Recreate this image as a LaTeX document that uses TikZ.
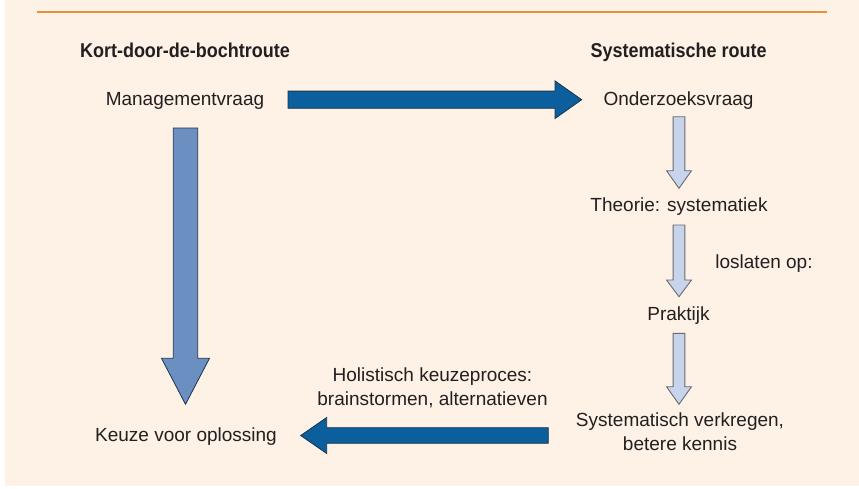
\documentclass[tikz,border=0pt]{standalone}
\usepackage{fontspec}
\setmainfont{Liberation Sans}
\newfontfamily\headfont{Liberation Sans}[FakeStretch=0.9]
\usetikzlibrary{calc}

\definecolor{paper}{HTML}{FEF1E5}
\definecolor{rulecol}{HTML}{E3913A}
\definecolor{ink}{HTML}{231F20}
\definecolor{deepblue}{HTML}{0A5F9C}
\definecolor{deepedge}{HTML}{1B3550}
\definecolor{midblue}{HTML}{6B8FC1}
\definecolor{paleblue}{HTML}{C7D4EC}
\definecolor{paleedge}{HTML}{6A6A6E}

% block arrow: #1 style, #2 tail, #3 tip, #4 shaft half width, #5 head half width, #6 head length
\newcommand\blockarrow[6]{%
  \coordinate (ba-base) at ($(#3)!#6!(#2)$);
  \draw[#1] ($(#2)!#4!90:(#3)$) -- ($(ba-base)!#4!-90:(#2)$)
    -- ($(ba-base)!#5!-90:(#2)$) -- (#3)
    -- ($(ba-base)!#5!90:(#2)$) -- ($(ba-base)!#4!90:(#2)$)
    -- ($(#2)!#4!-90:(#3)$) -- cycle;
}

\tikzset{
  txt/.style={inner sep=0pt, text=ink, font=\fontsize{19}{23.3}\selectfont},
  head/.style={inner sep=0pt, text=ink, font=\fontsize{20}{24}\headfont\bfseries},
  darrow/.style={fill=deepblue, draw=deepedge, line width=0.8pt, line join=miter},
  marrow/.style={fill=midblue, draw=deepedge, line width=0.8pt, line join=miter},
  parrow/.style={fill=paleblue, draw=paleedge, line width=0.9pt, line join=miter},
}

\begin{document}
\begin{tikzpicture}[x=1pt,y=-1pt]
  % page and panel
  \fill[white] (0,0) rectangle (859,488);
  \fill[paper] (5,0) rectangle (859,486);
  \draw[rulecol, line width=2.2pt] (37,12) -- (827,12);

  % column headings
  \node[head, anchor=base] (kort) at (185,57) {Kort-door-de-bochtroute};
  \node[head, anchor=base] (sys) at (678.7,57) {Systematische route};

  % texts
  \node[txt, anchor=base] (mv) at (185,105) {Managementvraag};
  \node[txt, anchor=base] (ov) at (678.5,105) {Onderzoeksvraag};
  \node[txt, anchor=base] (th) at (679,211.7) {Theorie: systematiek};
  \node[txt, anchor=base] (los) at (764,268.3) {loslaten op:};
  \node[txt, anchor=base] (pr) at (678.5,320) {Praktijk};
  \node[txt, anchor=north, align=center] (sk) at (680,412.9) {Systematisch verkregen,\\betere kennis};
  \node[txt, anchor=north, align=center] (hol) at (432.5,367.8) {Holistisch keuzeproces:\\brainstormen, alternatieven};
  \node[txt, anchor=base] (keuze) at (186,441.5) {Keuze voor oplossing};

  % arrow end points
  \coordinate (mv-out) at (288,99.7);
  \coordinate (ov-in) at (581.7,99.7);
  \coordinate (mv-down) at (185.5,128);
  \coordinate (keuze-in) at (185.5,404.3);
  \coordinate (sk-out) at (548.3,435.5);
  \coordinate (keuze-right) at (300.7,435.5);
  \coordinate (ov-down) at (679,116.7);
  \coordinate (th-in) at (679,188.3);
  \coordinate (th-down) at (679,225);
  \coordinate (pr-in) at (679,296.7);
  \coordinate (pr-down) at (679,333.3);
  \coordinate (sk-in) at (679,404.3);

  % connectors
  \blockarrow{darrow}{mv-out}{ov-in}{8.6pt}{18.8pt}{26.7pt}
  \blockarrow{marrow}{mv-down}{keuze-in}{12.2pt}{24pt}{46pt}
  \blockarrow{darrow}{sk-out}{keuze-right}{7.8pt}{18pt}{26pt}
  \blockarrow{parrow}{ov-down}{th-in}{5.9pt}{12.5pt}{17.6pt}
  \blockarrow{parrow}{th-down}{pr-in}{5.9pt}{12.5pt}{16.7pt}
  \blockarrow{parrow}{pr-down}{sk-in}{5.9pt}{12.5pt}{17.6pt}
\end{tikzpicture}
\end{document}
